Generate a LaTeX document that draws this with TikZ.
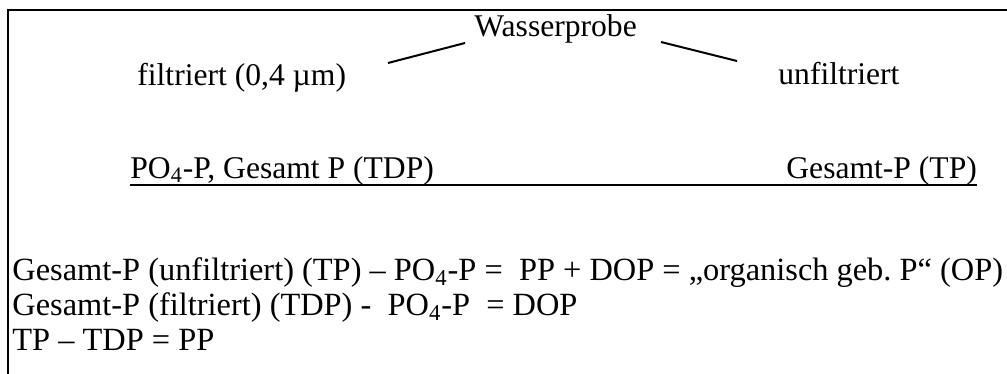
\documentclass[tikz,border=0pt]{standalone}
\usepackage{fontspec}
\setmainfont{Liberation Serif}
\usepackage{tikz}
\usetikzlibrary{calc,positioning}

\begin{document}
\begin{tikzpicture}[x=0.5pt,y=-0.5pt,
  every node/.style={inner sep=0pt,anchor=base west,font=\fontsize{15.8}{19}\selectfont},
  gleichung/.style={font=\fontsize{16.2}{19}\selectfont},
  rahmen/.style={line width=1.3pt},
  ast/.style={line width=1pt}]
\useasboundingbox (0,0) rectangle (1007,374);

\draw[rahmen] (8,374) -- (8,10) -- (1007,10);

\node (probe) at (474,37) {Wasserprobe};
\node (filt) at (137,86) {filtriert (0,4 µm)};
\node (unfilt) at (778,85) {unfiltriert};

\coordinate (fa) at (388,63);
\coordinate (fb) at (465,43);
\coordinate (ua) at (661,42);
\coordinate (ub) at (737,61);
\draw[ast] (fa) -- (fb);
\draw[ast] (ua) -- (ub);

\node (tdp) at (130,178) {PO\textsubscript{4}-P, Gesamt P (TDP)};
\node (tp) at (786,178) {Gesamt-P (TP)};
\draw[ast] ($(tdp.base west)+(0,7)$) -- ($(tp.base east)+(0,7)$);

\node[gleichung] (gl1) at (12,280) {Gesamt-P (unfiltriert) (TP) – PO\textsubscript{4}-P =\ \ PP + DOP = „organisch geb.\ P“ (OP)};
\node[gleichung] (gl2) at (12,315) {Gesamt-P (filtriert) (TDP) -\ \ PO\textsubscript{4}-P\ \ = DOP};
\node[gleichung] (gl3) at (12,350) {TP – TDP = PP};

\end{tikzpicture}
\end{document}
